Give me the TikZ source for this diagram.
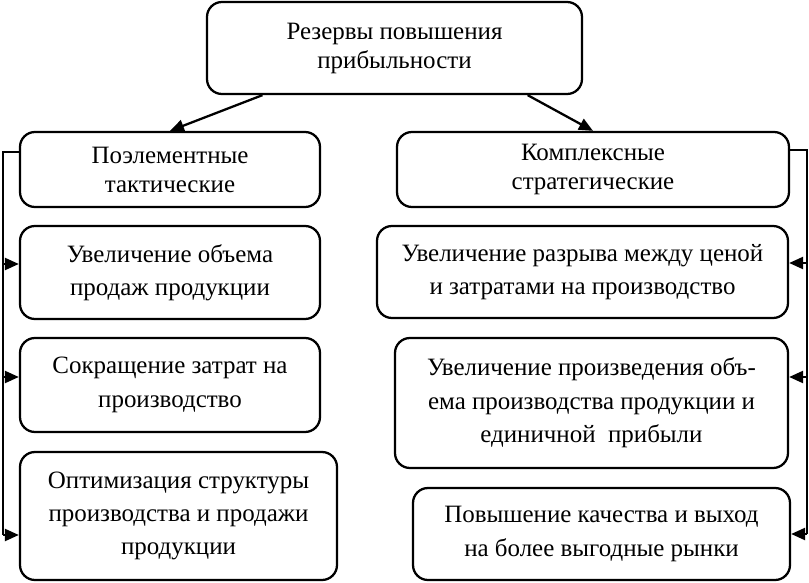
\documentclass[tikz,border=0pt]{standalone}
\usepackage{fontspec}
\setmainfont{Liberation Serif}
\usetikzlibrary{positioning,calc,arrows.meta}

\begin{document}
\begin{tikzpicture}[line width=1.3pt,font=\fontsize{14.2}{19}\selectfont,box/.style={draw,rounded corners=0.3cm,align=center,inner sep=2pt},headbox/.style={box,font=\fontsize{14.2}{16.5}\selectfont},tip/.style={-{Triangle[length=0.28cm,width=0.24cm]}}]
\useasboundingbox (0,0) rectangle (16.18,-11.66);
\def\xleft{3.4}\def\xright{11.86}\def\xlbus{0.06}\def\xrbus{16.14}
\node[headbox,minimum width=7.5cm,minimum height=1.84cm] (top) at (7.89,-0.96) {Резервы повышения\\прибыльности};
\node[headbox,minimum width=6cm,minimum height=1.5cm] (tact) at (\xleft,-3.39) {Поэлементные\\тактические};
\node[headbox,minimum width=7.84cm,minimum height=1.5cm] (strat) at (\xright,-3.39) {Комплексные\\стратегические};
\node[box,minimum width=6cm,minimum height=1.86cm] (sales) at (\xleft,-5.45) {Увеличение объема\\продаж продукции};
\node[box,minimum width=6cm,minimum height=1.88cm] (costs) at (\xleft,-7.7) {Сокращение затрат на\\производство};
\node[box,minimum width=6.34cm,minimum height=2.56cm] (struct) at (3.57,-10.32) {Оптимизация структуры\\производства и продажи\\продукции};
\node[box,minimum width=8.22cm,minimum height=1.84cm] (gap) at (11.65,-5.44) {Увеличение разрыва между ценой\\и затратами на производство};
\node[box,minimum width=7.86cm,minimum height=2.6cm] (volume) at (11.83,-8.06) {Увеличение произведения объ-\\ема производства продукции и\\единичной\ \ прибыли};
\node[box,minimum width=7.54cm,minimum height=1.84cm] (quality) at (12.03,-10.68) {Повышение качества и выход\\на более выгодные рынки};
\draw[tip] ($(top.south west)!0.15!(top.south east)$) -- (tact.north);
\draw[tip] ($(top.south west)!0.853!(top.south east)$) -- (strat.north);
\coordinate (tactout) at ([yshift=0.35cm]tact.west);
\coordinate (salesin) at ([yshift=0.17cm]sales.west);
\coordinate (costsin) at ([yshift=0.16cm]costs.west);
\coordinate (structin) at ([yshift=-0.38cm]struct.west);
\coordinate (stratout) at ([yshift=0.39cm]strat.east);
\coordinate (gapin) at ([yshift=0.18cm]gap.east);
\coordinate (volumein) at ([yshift=0.52cm]volume.east);
\coordinate (qualityin) at (quality.east);
\coordinate (lbus) at (\xlbus,0);
\coordinate (rbus) at (\xrbus,0);
\draw (tactout) -- (lbus |- tactout) -- (lbus |- structin);
\draw[tip] (lbus |- salesin) -- (salesin);
\draw[tip] (lbus |- costsin) -- (costsin);
\draw[tip] (lbus |- structin) -- (structin);
\draw (stratout) -- (rbus |- stratout) -- (rbus |- qualityin);
\draw[tip] (rbus |- gapin) -- (gapin);
\draw[tip] (rbus |- volumein) -- (volumein);
\draw[tip] (rbus |- qualityin) -- (qualityin);
\end{tikzpicture}
\end{document}
